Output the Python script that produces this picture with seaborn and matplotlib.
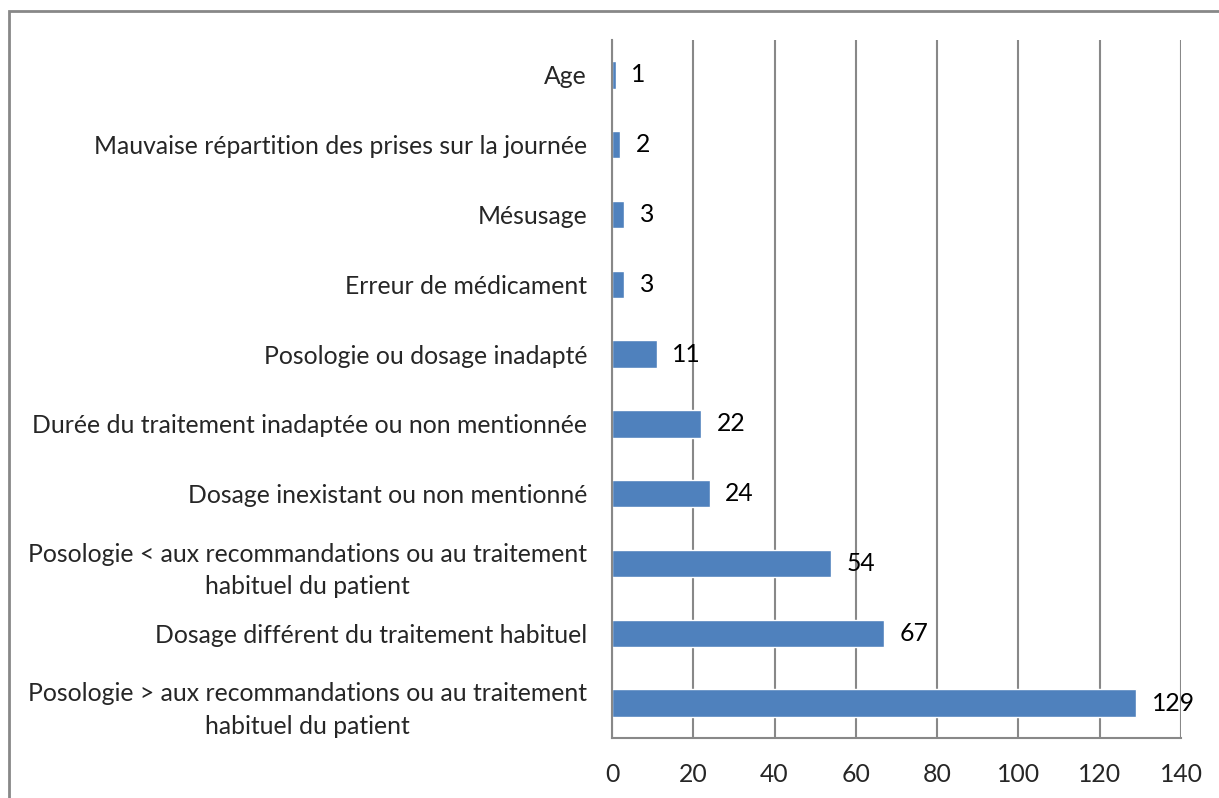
import matplotlib
matplotlib.use('Agg')
import matplotlib.pyplot as plt
import seaborn as sns
import pandas as pd
from matplotlib.patches import Rectangle

# Data
categories = [
    "Age",
    "Mauvaise répartition des prises sur la journée",
    "Mésusage",
    "Erreur de médicament",
    "Posologie ou dosage inadapté",
    "Durée du traitement inadaptée ou non mentionnée",
    "Dosage inexistant ou non mentionné",
    "Posologie < aux recommandations ou au traitement\nhabituel du patient",
    "Dosage différent du traitement habituel",
    "Posologie > aux recommandations ou au traitement\nhabituel du patient",
]
counts = [1, 2, 3, 3, 11, 22, 24, 54, 67, 129]
x_ticks = [0, 20, 40, 60, 80, 100, 120, 140]

BAR_COLOR = "#4F81BD"
GRID_COLOR = "#888888"
FS = 17.8

sns.set_style("white")
plt.rcParams['font.family'] = ['Lato', 'DejaVu Sans']

df = pd.DataFrame({"cause": categories, "n": counts})

fig = plt.figure(figsize=(12.19, 7.98), dpi=100)
ax = fig.add_axes([612 / 1219, 1 - 738 / 798, (1181 - 612) / 1219, (738 - 40) / 798])

sns.barplot(data=df, y="cause", x="n", orient="h", color=BAR_COLOR,
            saturation=1, width=0.39, ax=ax)

ax.set_xlim(0, 140)
ax.set_ylim(len(categories) - 0.5, -0.5)
ax.set_xticks(x_ticks)
ax.set_xticklabels([str(t) for t in x_ticks], fontsize=FS)
ax.set_xlabel("")
ax.set_ylabel("")

# vertical gridlines only
ax.grid(axis="x", color=GRID_COLOR, linewidth=1.5)
ax.set_axisbelow(True)

for side in ["top", "right"]:
    ax.spines[side].set_visible(False)
for side in ["left", "bottom"]:
    ax.spines[side].set_color(GRID_COLOR)
    ax.spines[side].set_linewidth(1.5)

# category labels centered, boundary ticks outward
ax.tick_params(axis="y", which="major", length=0, pad=18, labelsize=FS)
for lbl in ax.get_yticklabels():
    lbl.set_multialignment("center")
    lbl.set_linespacing(1.5)
ax.set_yticks([i - 0.5 for i in range(len(categories) + 1)], minor=True)
ax.tick_params(axis="y", which="minor", length=6, width=1.5, color=GRID_COLOR, direction="out")
ax.tick_params(axis="x", which="major", length=6, width=1.5, color=GRID_COLOR, direction="out", pad=12)

# value labels
for i, v in enumerate(counts):
    ax.annotate(str(v), xy=(v, i), xytext=(11, 0), textcoords="offset points",
                va="center", ha="left", fontsize=FS, color="black")

# outer chart border
fig.patches.append(Rectangle((9 / 1219, -0.1), 1.2, 1 - 11 / 798 + 0.1,
                             transform=fig.transFigure, fill=False,
                             edgecolor=GRID_COLOR, linewidth=2))

fig.savefig("out.png", dpi=100)
